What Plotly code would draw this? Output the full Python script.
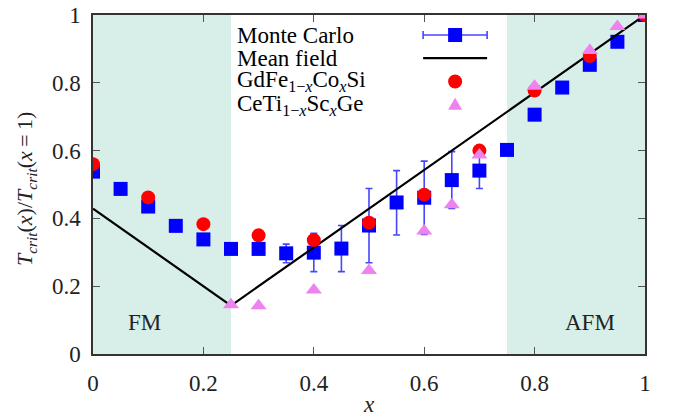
import plotly.graph_objects as go

# ---- data ----
mc_x = [0.0, 0.05, 0.1, 0.15, 0.2, 0.25, 0.3, 0.35, 0.4, 0.45, 0.5, 0.55, 0.6, 0.65, 0.7, 0.75, 0.8, 0.85, 0.9, 0.95, 1.0]
mc_y = [0.538, 0.487, 0.435, 0.378, 0.338, 0.31, 0.31, 0.297, 0.299, 0.311, 0.379, 0.447, 0.461, 0.513, 0.541, 0.602, 0.706, 0.786, 0.853, 0.921, 1.0]
mc_err_plus = [0, 0, 0, 0, 0, 0, 0, 0.027, 0.057, 0.068, 0.109, 0.094, 0.108, 0.084, 0.053, 0, 0, 0, 0, 0, 0]
mc_err_minus = [0, 0, 0, 0, 0, 0, 0, 0.028, 0.056, 0.068, 0.110, 0.096, 0.108, 0.084, 0.053, 0, 0, 0, 0, 0, 0]

mf_x = [0.0, 0.25, 1.0]
mf_y = [0.4286, 0.1429, 1.0]

gd_x = [0.0, 0.1, 0.2, 0.3, 0.4, 0.5, 0.6, 0.7, 0.8, 0.9, 1.0]
gd_y = [0.56, 0.462, 0.383, 0.35, 0.336, 0.387, 0.47, 0.6, 0.777, 0.879, 1.0]

ce_x = [0.25, 0.3, 0.4, 0.5, 0.6, 0.65, 0.7, 0.8, 0.9, 0.95, 1.0]
ce_y = [0.145, 0.142, 0.189, 0.246, 0.363, 0.44, 0.587, 0.79, 0.895, 0.966, 1.0]

x_ticks = [0, 0.2, 0.4, 0.6, 0.8, 1.0]
x_ticklabels = ["0", "0.2", "0.4", "0.6", "0.8", "1"]
y_ticks = [0, 0.2, 0.4, 0.6, 0.8, 1.0]
y_ticklabels = ["0", "0.2", "0.4", "0.6", "0.8", "1"]

fm_region = [0.0, 0.25]
afm_region = [0.75, 1.0]

legend_names = ["Monte Carlo", "Mean field",
                "GdFe<sub>1\u2212<i>x</i></sub>Co<sub><i>x</i></sub>Si",
                "CeTi<sub>1\u2212<i>x</i></sub>Sc<sub><i>x</i></sub>Ge"]
x_title = "<i>x</i>"
y_title = "<i>T</i><sub><i>crit</i></sub>(<i>x</i>)/<i>T</i><sub><i>crit</i></sub>(<i>x</i>\u2009=\u20091)"

FONT = "Liberation Serif"
FS = 23
SHADE = "rgb(216,238,232)"
BLUE = "#0000ff"
ERRC = "rgb(70,70,255)"
RED = "#ff0000"
VIOLET = "#ee82ee"
TXT = "#222222"

fig = go.Figure()

fig.add_trace(go.Scatter(
    x=mc_x, y=mc_y, mode="markers", name=legend_names[0],
    marker=dict(symbol="square", size=14, color=BLUE),
    error_y=dict(type="data", array=mc_err_plus, arrayminus=mc_err_minus,
                 color=ERRC, thickness=1.6, width=3.5),
    showlegend=False))
fig.add_trace(go.Scatter(
    x=mf_x, y=mf_y, mode="lines", name=legend_names[1],
    line=dict(color="black", width=2.2), showlegend=False))
fig.add_trace(go.Scatter(
    x=gd_x, y=gd_y, mode="markers", name=legend_names[2],
    marker=dict(symbol="circle", size=14, color=RED), showlegend=False))
fig.add_trace(go.Scatter(
    x=ce_x, y=ce_y, mode="markers", name=legend_names[3],
    marker=dict(symbol="triangle-up", size=14, color=VIOLET), showlegend=False))

shapes = []
for r in (fm_region, afm_region):
    shapes.append(dict(type="rect", xref="x", yref="paper", x0=r[0], x1=r[1], y0=0, y1=1,
                       fillcolor=SHADE, line=dict(width=0), layer="below"))

# custom legend (text left, sample right)
leg_x_text = 0.257
leg_x_sample = 0.656
leg_rows = [0.941, 0.873, 0.804, 0.735]
annotations = []
for name, yy in zip(legend_names, leg_rows):
    annotations.append(dict(xref="paper", yref="paper", x=leg_x_text, y=yy, text=name,
                            showarrow=False, xanchor="left", yanchor="middle",
                            font=dict(family=FONT, size=FS, color="black")))

def pix(kind, yy, **kw):
    d = dict(type=kind, xref="paper", yref="paper", xsizemode="pixel", ysizemode="pixel",
             xanchor=leg_x_sample, yanchor=yy)
    d.update(kw)
    return d

# Monte Carlo sample
shapes.append(pix("line", leg_rows[0], x0=-32, x1=32, y0=0, y1=0, line=dict(color=ERRC, width=1.6)))
shapes.append(pix("line", leg_rows[0], x0=-32, x1=-32, y0=-4, y1=4, line=dict(color=ERRC, width=1.6)))
shapes.append(pix("line", leg_rows[0], x0=32, x1=32, y0=-4, y1=4, line=dict(color=ERRC, width=1.6)))
shapes.append(pix("rect", leg_rows[0], x0=-7, x1=7, y0=-7, y1=7, fillcolor=BLUE, line=dict(width=0)))
# Mean field sample
shapes.append(pix("line", leg_rows[1], x0=-32, x1=32, y0=0, y1=0, line=dict(color="black", width=2.2)))
# GdFe sample
shapes.append(pix("circle", leg_rows[2], x0=-7, x1=7, y0=-7, y1=7, fillcolor=RED, line=dict(width=0)))
# CeTi sample
shapes.append(pix("path", leg_rows[3], path="M-7,-5 L7,-5 L0,7 Z", fillcolor=VIOLET, line=dict(width=0)))

annotations.append(dict(xref="x", yref="y", x=0.094, y=0.094, text="FM", showarrow=False,
                        font=dict(family=FONT, size=FS, color=TXT)))
annotations.append(dict(xref="x", yref="y", x=0.9, y=0.094, text="AFM", showarrow=False,
                        font=dict(family=FONT, size=FS, color=TXT)))
# axis titles
annotations.append(dict(xref="paper", yref="paper", x=0.5, y=-0.148, text=x_title, showarrow=False,
                        xanchor="center", yanchor="middle", font=dict(family=FONT, size=FS, color=TXT)))
annotations.append(dict(xref="paper", yref="paper", x=-0.121, y=0.487, text=y_title, showarrow=False,
                        textangle=-90, xanchor="center", yanchor="middle",
                        font=dict(family=FONT, size=22, color=TXT)))

axis_common = dict(showline=True, linecolor="#333333", linewidth=1.5, mirror="ticks",
                   ticks="inside", ticklen=7, tickcolor="#555555", tickwidth=1.2,
                   showgrid=False, zeroline=False, automargin=False,
                   tickfont=dict(family=FONT, size=FS, color=TXT))

fig.update_layout(
    width=676, height=417,
    margin=dict(l=93, r=31, t=15, b=63, autoexpand=False),
    paper_bgcolor="white", plot_bgcolor="white",
    shapes=shapes, annotations=annotations,
    xaxis=dict(range=[0, 1], tickvals=x_ticks, ticktext=x_ticklabels,
               ticklabelstandoff=8, **axis_common),
    yaxis=dict(range=[0, 1], tickvals=y_ticks, ticktext=y_ticklabels,
               ticklabelstandoff=6, **axis_common),
)

fig.write_html("out.html")
